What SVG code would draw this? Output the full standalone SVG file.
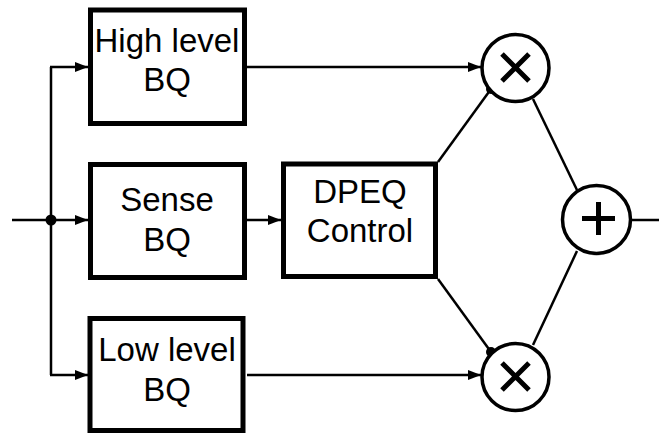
<svg xmlns="http://www.w3.org/2000/svg" width="659" height="434" viewBox="0 0 659 434">
<defs>
<style>
.box{fill:#fff;stroke:#000;stroke-width:5}
.circ{fill:#fff;stroke:#000;stroke-width:3.5}
.sym{stroke:#000;stroke-width:5;fill:none;stroke-linecap:butt}
.ln{stroke:#000;stroke-width:2.5;fill:none}
.txt{font-family:"Liberation Sans",Arial,sans-serif;font-size:33px;fill:#000;text-anchor:middle}
.dot{fill:#000}
</style>
<marker id="arr" markerUnits="userSpaceOnUse" markerWidth="14" markerHeight="12" refX="13" refY="6" orient="auto">
<path d="M0,1 L13,6 L0,11 z" fill="#000"/>
</marker>
</defs>
<g id="connectors">
<line class="ln" x1="12" y1="220" x2="88" y2="220" marker-end="url(#arr)"/>
<line class="ln" x1="51" y1="67" x2="51" y2="375"/>
<line class="ln" x1="50" y1="67" x2="88" y2="67" marker-end="url(#arr)"/>
<line class="ln" x1="50" y1="375" x2="88" y2="375" marker-end="url(#arr)"/>
<line class="ln" x1="247" y1="220" x2="281" y2="220" marker-end="url(#arr)"/>
<line class="ln" x1="247" y1="67" x2="481" y2="67" marker-end="url(#arr)"/>
<line class="ln" x1="247" y1="375" x2="481" y2="375" marker-end="url(#arr)"/>
<line class="ln" x1="438" y1="162" x2="491" y2="89"/>
<line class="ln" x1="438" y1="279" x2="491" y2="352"/>
<line class="ln" x1="533" y1="99" x2="577" y2="190"/>
<line class="ln" x1="533" y1="345" x2="577" y2="251"/>
<line class="ln" x1="632" y1="220" x2="659" y2="220"/>
<circle class="dot" cx="51" cy="220" r="5.5"/>
<circle class="dot" cx="491" cy="89" r="5"/>
<circle class="dot" cx="491" cy="352" r="5"/>
</g>
<g id="high">
<rect class="box" x="90.5" y="10" width="154" height="113.5"/>
<text class="txt" x="167" y="52">High level</text>
<text class="txt" x="167" y="91">BQ</text>
</g>
<g id="sense">
<rect class="box" x="90.5" y="164.5" width="154" height="113"/>
<text class="txt" x="167" y="211">Sense</text>
<text class="txt" x="167" y="251">BQ</text>
</g>
<g id="low">
<rect class="box" x="90" y="318.5" width="153" height="112"/>
<text class="txt" x="167" y="361">Low level</text>
<text class="txt" x="167" y="401">BQ</text>
</g>
<g id="dpeq">
<rect class="box" x="283.5" y="164" width="152" height="112.5"/>
<text class="txt" x="360" y="203">DPEQ</text>
<text class="txt" x="360" y="242">Control</text>
</g>
<g id="mult-top">
<circle class="circ" cx="515.5" cy="68" r="33.5"/>
<path class="sym" d="M502,54 L529,81 M529,54 L502,81"/>
</g>
<g id="mult-bottom">
<circle class="circ" cx="515.5" cy="377" r="33.5"/>
<path class="sym" d="M502,363 L529,390 M529,363 L502,390"/>
</g>
<g id="sum">
<circle class="circ" cx="596.5" cy="219.5" r="34"/>
<path class="sym" d="M582,218.5 L615,218.5 M598.5,202 L598.5,235"/>
</g>
</svg>
